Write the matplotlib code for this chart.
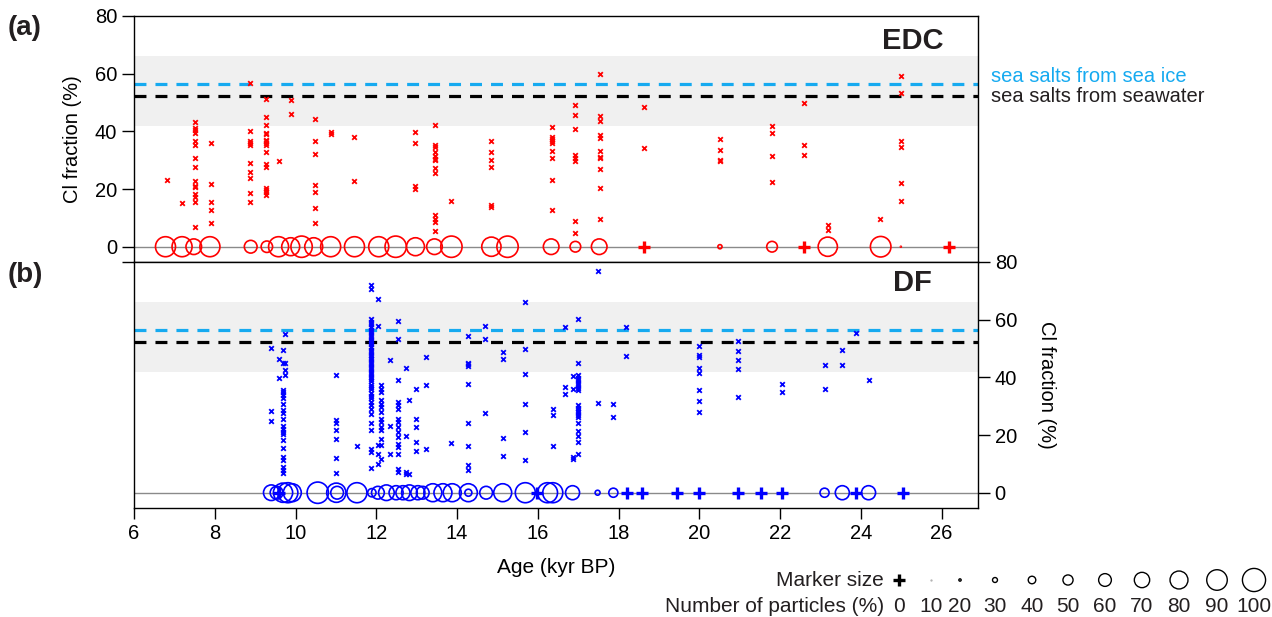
import numpy as np
import matplotlib.pyplot as plt

plt.rcParams['font.family'] = ['Liberation Sans', 'DejaVu Sans']
plt.rcParams['lines.scale_dashes'] = False

W, H, DPI = 1272, 617, 100

# (a) EDC: Cl fraction of single particles, one list per sample age
edc_col_age = [6.81, 7.19, 7.50, 7.90, 8.88, 9.28, 9.58, 9.88, 10.47, 10.87, 11.46, 12.96,
               13.46, 13.85, 14.84, 16.34, 16.93, 17.53, 18.62, 20.51, 21.80, 22.60, 23.19,
               24.48, 24.99]
edc_col_cl = [
    [23.0],
    [15.3],
    [43.4, 41.1, 40.5, 39.6, 36.8, 35.1, 30.9, 27.8, 22.9, 21.1, 20.7, 18.3, 17.4, 15.6, 6.7],
    [36.1, 21.7, 15.6, 12.9, 8.3],
    [56.8, 40.1, 36.7, 35.9, 35.3, 29.2, 26.0, 23.9, 18.5, 15.5],
    [51.2, 44.9, 42.3, 39.6, 39.2, 37.1, 36.5, 35.9, 35.2, 33.0, 28.7, 27.8, 20.5, 19.7, 19.0, 17.9],
    [29.8],
    [50.9, 46.0],
    [44.3, 36.6, 32.2, 21.5, 19.0, 13.3, 8.3],
    [39.7, 39.1],
    [38.1, 22.9],
    [39.9, 35.8, 21.1, 20.0],
    [42.3, 35.3, 34.5, 32.7, 31.3, 30.5, 29.9, 27.2, 25.5, 11.1, 9.6, 8.4, 5.3],
    [15.8],
    [36.5, 33.0, 30.1, 27.5, 14.5, 13.7],
    [41.4, 38.2, 37.4, 36.7, 36.1, 33.2, 30.7, 23.2, 12.8],
    [49.2, 45.7, 40.8, 31.9, 30.9, 29.8, 9.0, 4.7],
    [59.8, 45.4, 43.5, 38.8, 37.6, 33.2, 31.1, 30.6, 27.1, 20.5, 9.6],
    [48.3, 34.4],
    [37.3, 33.6, 30.1, 29.8],
    [41.9, 39.6, 31.6, 22.5],
    [49.9, 35.2, 31.9],
    [7.7, 5.8],
    [9.7],
    [59.2, 53.4, 36.7, 34.6, 22.2, 15.7],
]
# number of particles (%) drawn as circles on the zero line (0 -> plus sign)
edc_circ_age = [6.78, 7.19, 7.48, 7.88, 8.89, 9.29, 9.58, 9.88, 10.15, 10.45, 10.87, 11.46,
                12.06, 12.48, 12.97, 13.44, 13.86, 14.85, 15.25, 16.33, 16.93, 17.52, 18.63,
                20.51, 21.80, 22.59, 23.18, 24.49, 24.99, 26.17]
edc_circ_pct = [88, 88, 71, 88, 60, 55, 88, 80, 93, 80, 88, 88,
                88, 93, 80, 71, 93, 85, 93, 71, 52, 71, 0,
                27, 52, 0, 85, 90, 10, 0]

# (b) DF
df_col_age = [9.40, 9.59, 9.68, 9.73, 11.01, 11.52, 11.88, 12.04, 12.12, 12.33, 12.54, 12.74,
              12.80, 12.99, 13.23, 13.86, 14.28, 14.70, 15.13, 15.69, 16.37, 16.67, 16.86,
              16.99, 17.48, 17.87, 18.19, 20.00, 20.96, 22.05, 23.10, 23.53, 23.87, 24.19]
df_col_cl = [
    [50.3, 28.5, 24.8],
    [46.3, 39.9],
    [49.4, 45.0, 35.7, 34.9, 34.0, 32.8, 30.9, 28.8, 27.6, 25.6, 23.0, 22.0, 21.0, 20.2, 18.4,
     15.5, 12.3, 11.4, 8.8, 7.9, 6.7],
    [55.2, 45.0, 42.7, 40.9],
    [40.7, 25.3, 24.1, 21.8, 18.5, 11.9, 6.7],
    [16.1],
    [72.0, 70.5, 60.1, 59.2, 58.4, 57.3, 56.5, 55.6, 54.8, 54.1, 53.0, 52.2, 51.5, 50.4, 49.6,
     48.9, 47.8, 47.1, 46.2, 45.4, 44.6, 43.5, 42.8, 41.9, 41.0, 40.2, 39.3, 38.6, 37.5, 36.8,
     35.9, 34.7, 33.6, 32.9, 31.5, 30.3, 28.9, 27.4, 24.1, 21.6, 15.2, 14.0, 8.6],
    [67.1, 57.8, 16.7, 13.5, 10.0],
    [37.2, 36.1, 34.9, 32.0, 30.9, 29.7, 27.9, 25.6, 24.5, 22.7, 21.6, 18.7, 16.7, 11.7],
    [46.1, 23.3, 13.5],
    [59.6, 53.2, 39.0, 31.4, 30.3, 29.1, 25.6, 24.5, 22.7, 21.0, 19.2, 16.9, 15.8, 13.5, 8.2, 7.1],
    [43.4, 19.5, 7.1, 6.5],
    [32.3, 6.5],
    [35.8, 25.6, 22.7, 17.5, 14.6],
    [47.1, 37.5, 15.2],
    [17.2],
    [54.3, 45.1, 44.5, 43.8, 37.7, 24.2, 16.2, 9.6, 7.9],
    [57.7, 53.2, 27.6],
    [48.8, 46.3, 19.1, 12.9],
    [66.1, 49.9, 41.3, 30.6, 21.0, 11.2],
    [29.2, 27.1, 16.3],
    [57.5, 36.5, 34.2],
    [40.3, 35.8, 12.3, 11.7],
    [60.2, 44.9, 40.7, 39.9, 39.0, 38.0, 37.2, 36.4, 35.5, 30.3, 29.5, 28.8, 27.9, 27.1, 26.4,
     24.3, 21.3, 19.5, 17.5, 13.5],
    [76.9, 31.2],
    [30.8, 26.4],
    [57.5, 47.4],
    [50.8, 47.9, 47.1, 43.4, 41.5, 35.5, 31.7, 28.1],
    [52.5, 49.0, 45.9, 42.8, 33.2],
    [37.6, 35.0],
    [44.4, 35.9],
    [49.4, 44.2],
    [55.4],
    [39.0],
]
df_circ_age = [9.40, 9.53, 9.59, 9.69, 9.81, 9.92, 10.55, 11.01, 11.03, 11.52, 11.89, 12.04,
               12.25, 12.49, 12.66, 12.82, 13.03, 13.15, 13.40, 13.65, 13.88, 14.28, 14.28,
               14.72, 15.13, 15.69, 15.97, 16.24, 16.37, 16.86, 17.48, 17.87, 18.20, 18.59,
               19.44, 19.99, 20.96, 21.52, 22.04, 23.10, 23.54, 23.87, 24.19, 25.04]
df_circ_pct = [71, 60, 0, 85, 88, 80, 93, 85, 60, 88, 43, 60,
               71, 65, 65, 71, 65, 60, 80, 80, 80, 80, 38,
               60, 80, 88, 0, 88, 88, 65, 30, 46, 0, 0,
               0, 0, 0, 0, 0, 46, 65, 0, 65, 0]

# marker size key at the bottom right
key_pct = [0, 10, 20, 30, 40, 50, 60, 70, 80, 90, 100]
key_x_px = [899, 931, 960, 995, 1032, 1068, 1105, 1142, 1179, 1217, 1254]

SEA_ICE = 56.4
SEAWATER = 52.4
BAND = (42, 66)


def size_pt(pct):
    # circle diameter grows about 2.6 px per 10 %
    d_px = np.clip(0.26 * (np.asarray(pct, float) - 11), 0.9, None)
    return (d_px * 72 / DPI) ** 2


def draw_panel(ax, col_age, col_cl, circ_age, circ_pct, color):
    ax.axhspan(BAND[0], BAND[1], color='#f0f0f0', lw=0, zorder=0)
    ax.axhline(SEA_ICE, color='#16aaf0', lw=2.3, dashes=(8.6, 6.5), zorder=1)
    ax.axhline(SEAWATER, color='black', lw=2.3, dashes=(8.6, 6.5), zorder=1)
    ax.axhline(0, color='#8a8a8a', lw=1.0, zorder=1)

    ages = np.repeat(col_age, [len(v) for v in col_cl])
    vals = np.concatenate(col_cl)
    ax.scatter(ages, vals, marker='x', s=11, lw=1.3, color=color, zorder=3)

    circ_age = np.asarray(circ_age)
    circ_pct = np.asarray(circ_pct)
    zero = circ_pct == 0
    ax.scatter(circ_age[~zero], np.zeros((~zero).sum()), s=size_pt(circ_pct[~zero]),
               facecolors='none', edgecolors=color, lw=1.2, zorder=3)
    ax.scatter(circ_age[zero], np.zeros(zero.sum()), marker='+', s=75, lw=2.4,
               color=color, zorder=3)

    ax.set_xlim(6, 26.9)
    ax.set_ylim(-5.3, 80)
    for sp in ax.spines.values():
        sp.set_linewidth(1.0)


fig = plt.figure(figsize=(W / DPI, H / DPI), dpi=DPI)
ax1 = fig.add_axes([134 / W, 1 - 262 / H, 844 / W, 246 / H])
ax2 = fig.add_axes([134 / W, 1 - 508 / H, 844 / W, 246 / H])

draw_panel(ax1, edc_col_age, edc_col_cl, edc_circ_age, edc_circ_pct, '#ff0000')
draw_panel(ax2, df_col_age, df_col_cl, df_circ_age, df_circ_pct, '#0000ff')

# panel (a): left axis only
ax1.set_yticks([0, 20, 40, 60, 80])
ax1.set_yticks([-5.3], minor=True)
ax1.tick_params(axis='y', which='both', direction='out', length=8.5, width=1.0, labelsize=14.5)
ax1.tick_params(axis='x', bottom=False, labelbottom=False)
ax1.set_ylabel('Cl fraction (%)', fontsize=14.5, labelpad=9)
ax1.text(0.923, 0.9, 'EDC', transform=ax1.transAxes, ha='center', va='center',
         fontsize=21, fontweight='bold', color='#231f20')

# panel (b): right axis and age axis
ax2.yaxis.tick_right()
ax2.yaxis.set_label_position('right')
ax2.set_yticks([0, 20, 40, 60, 80])
ax2.tick_params(axis='y', direction='out', length=8.5, width=1.0, labelsize=14.5)
ax2.set_xticks(np.arange(6, 27, 2))
ax2.tick_params(axis='x', direction='out', length=8, width=1.0, labelsize=14.5)
ax2.set_ylabel('Cl fraction (%)', fontsize=14.5, rotation=270, labelpad=28)
ax2.set_xlabel('Age (kyr BP)', fontsize=15, labelpad=11)
ax2.text(0.922, 0.915, 'DF', transform=ax2.transAxes, ha='center', va='center',
         fontsize=21, fontweight='bold', color='#231f20')

# overlay in pixel coordinates for labels and the marker key
ov = fig.add_axes([0, 0, 1, 1])
ov.set_xlim(0, W)
ov.set_ylim(H, 0)
ov.axis('off')
ov.patch.set_visible(False)

ov.text(8, 28, '(a)', fontsize=20, fontweight='bold', va='center', color='#231f20')
ov.text(8, 275, '(b)', fontsize=20, fontweight='bold', va='center', color='#231f20')
ov.text(991, 76, 'sea salts from sea ice', fontsize=14.5, color='#16aaf0', va='center')
ov.text(991, 97, 'sea salts from seawater', fontsize=14.5, color='#231f20', va='center')

ov.text(884, 580, 'Marker size', fontsize=15, ha='right', va='center', color='#231f20')
ov.text(884, 606, 'Number of particles (%)', fontsize=15, ha='right', va='center',
        color='#231f20')
key_pct = np.asarray(key_pct)
key_x = np.asarray(key_x_px)
for x, p in zip(key_x, key_pct):
    ov.text(x, 606, str(p), fontsize=15, ha='center', va='center', color='#231f20')
ov.scatter(key_x[key_pct == 0], [580], marker='+', s=75, lw=2.4, color='black')
ov.scatter(key_x[key_pct == 10], [580], s=size_pt(10), color='#b0b0b0')
ov.scatter(key_x[key_pct > 10], np.full((key_pct > 10).sum(), 580),
           s=size_pt(key_pct[key_pct > 10]), facecolors='none', edgecolors='black', lw=1.0)

fig.savefig('out.png', dpi=DPI)
